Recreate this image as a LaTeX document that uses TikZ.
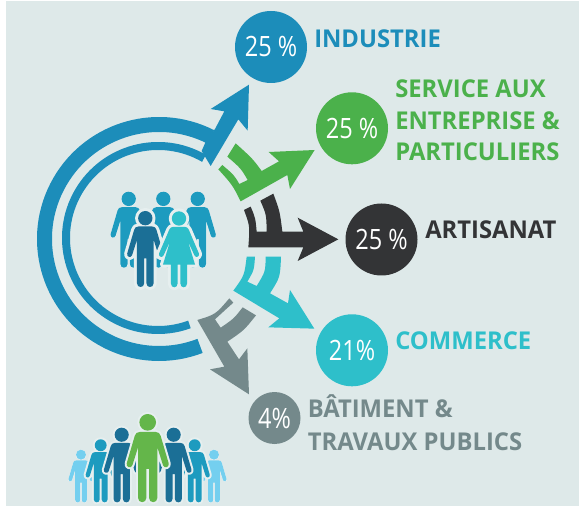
\documentclass[tikz,border=0pt]{standalone}
\usepackage{fontspec}
\setmainfont{Open Sans}
\newfontfamily\labfont[FakeStretch=0.97]{Open Sans}
\newfontfamily\pctfont[FakeStretch=0.84]{Open Sans}
\definecolor{bgc}{HTML}{DEE9E9}
\definecolor{haloc}{HTML}{E6EFEF}
\definecolor{cblue}{HTML}{1C8DBA}
\definecolor{cgreen}{HTML}{4BB14B}
\definecolor{cblack}{HTML}{333436}
\definecolor{ccyan}{HTML}{2EBFCA}
\definecolor{cgray}{HTML}{74898B}
\definecolor{pgreen}{HTML}{64B64A}
\definecolor{pdark}{HTML}{1B6F96}
\definecolor{pmid}{HTML}{1D9BBF}
\definecolor{plight}{HTML}{74CFEF}
\tikzset{
  pctnode/.style={circle,fill=#1,minimum size=54pt,inner sep=0pt,text=white,font=\pctfont\fontsize{21}{21}\selectfont},
  labnode/.style={anchor=base west,inner sep=0pt,text=#1,font=\labfont\bfseries\fontsize{18.4}{18.4}\selectfont},
}
\newcommand{\manbody}{
  (-24,54) -- (24,54) .. controls (32,54) and (37,58) .. (39,66)
  -- (63,148) .. controls (66,160) and (50,165) .. (46,154)
  -- (29,100) -- (29,252) .. controls (29,269) and (4,269) .. (4,252)
  -- (4,165) -- (-4,165) -- (-4,252) .. controls (-4,269) and (-29,269) .. (-29,252)
  -- (-29,100) -- (-46,154) .. controls (-50,165) and (-66,160) .. (-63,148)
  -- (-39,66) .. controls (-37,58) and (-32,54) .. (-24,54) -- cycle
}
\newcommand{\womanbody}{
  (-20,54) -- (20,54) .. controls (27,54) and (31,58) .. (34,64)
  -- (69,146) .. controls (73,158) and (59,164) .. (54,154)
  -- (31,104) -- (56,186) -- (28,186) -- (28,252) .. controls (28,269) and (5,269) .. (5,252)
  -- (5,186) -- (-5,186) -- (-5,252) .. controls (-5,269) and (-28,269) .. (-28,252)
  -- (-28,186) -- (-56,186) -- (-31,104) -- (-54,154) .. controls (-59,164) and (-73,158) .. (-69,146)
  -- (-34,64) .. controls (-31,58) and (-27,54) .. (-20,54) -- cycle
}
\newcommand{\man}[5]{
  \begin{scope}[shift={(#1,#2)},scale=#3]
    \draw[haloc,line width=#5,fill=haloc,line join=round] (0,25) circle (25) \manbody;
    \fill[#4] (0,25) circle (25) \manbody;
  \end{scope}
}
\newcommand{\woman}[5]{
  \begin{scope}[shift={(#1,#2)},scale=#3]
    \draw[haloc,line width=#5,fill=haloc,line join=round] (0,25) circle (25) \womanbody;
    \fill[#4] (0,25) circle (25) \womanbody;
  \end{scope}
}
\begin{document}
\begin{tikzpicture}[x=0.75pt,y=-0.75pt]
\useasboundingbox (0,0) rectangle (579,506);
\fill[bgc] (6,1) rectangle (579,506);

% rings
\draw[cblue,line width=11.25pt] (159,239) ++(-63:114.5) arc[start angle=-63,end angle=-291,radius=114.5];
\draw[cblue,line width=6pt] (158,238) ++(-60:92) arc[start angle=-60,end angle=-290,radius=92];

% blue arrow
\begin{scope}[shift={(180,70)},scale=1/3]
\fill[cblue] (105,177) -- (133,124) -- (92,117) -- (207,44) -- (203,182) -- (175,148) -- (92,288) -- (65,243) -- (78,213) -- cycle;
\end{scope}

% green arrow
\begin{scope}[shift={(210,130)},scale=1/3]
\fill[cgreen] (77,40) .. controls (128,86.2) .. (155,123) -- (207,94) -- (176,66) -- (314,60) -- (240,177) -- (232,135)
 -- (92,214) .. controls (67.2,164.7) .. (25,118) -- (37,105) .. controls (72.5,135.5) .. (88,162) -- (113,150) .. controls (92.5,115) .. (52,80) -- cycle;
\end{scope}

% black arrow
\begin{scope}[shift={(235,185)},scale=1/3]
\fill[cblack] (76,47) -- (115,26) .. controls (134.5,79) .. (142,140) -- (205,140) -- (188,98) -- (310,163) -- (188,228) -- (205,187)
 -- (40,187) .. controls (44.8,123) .. (27,75) -- (47,65) .. controls (61.3,99.2) .. (65,140) -- (95,140) .. controls (94.2,88.8) .. (76,47) -- cycle;
\end{scope}

% cyan arrow
\begin{scope}[shift={(225,250)},scale=1/3]
\fill[ccyan] (65,20) -- (90,20) .. controls (87.2,60.8) .. (67,95) -- (95,108) .. controls (121.2,65.3) .. (122,20) -- (168,20)
 .. controls (165.5,81.7) .. (135,130) -- (189,160) -- (195,120) -- (268,236) -- (130,232) -- (163,205) -- (25,122) .. controls (58.3,76.3) .. (65,20) -- cycle;
\end{scope}

% gray arrow
\begin{scope}[shift={(190,300)},scale=1/3]
\fill[cgray] (22,60) .. controls (76.7,43.3) .. (118,-5) -- (130,8) .. controls (99.2,35.7) .. (75,58) -- (92,83) .. controls (131.7,55.8) .. (158,22)
 -- (198,46) .. controls (161.7,91.5) .. (112,125) -- (147,178) -- (172,145) -- (177,283) -- (60,208) -- (103,200) -- cycle;
\end{scope}

% circles
\node[pctnode=cblue] (c1) at (271,47) {25 \%};
\node[pctnode=cgreen] (c2) at (352,128.3) {25 \%};
\node[pctnode=cblack] (c3) at (381.5,239.5) {25 \%};
\node[pctnode=ccyan] (c4) at (352,350.3) {21\%};
\node[pctnode=cgray,minimum size=39pt] (c5) at (274.5,418) {4\%};

% labels
\node[labnode=cblue] (l1) at (314,47.3) {INDUSTRIE};
\node[labnode=cgreen] (l2a) at (395,97.7) {SERVICE AUX};
\node[labnode=cgreen] (l2b) at (395,129.3) {ENTREPRISE \&};
\node[labnode=cgreen] (l2c) at (395,160.7) {PARTICULIERS};
\node[labnode=cblack] (l3) at (425,239) {ARTISANAT};
\node[labnode=ccyan] (l4) at (395,349.3) {COMMERCE};
\node[labnode=cgray] (l5a) at (307.5,417.7) {BÂTIMENT \&};
\node[labnode=cgray] (l5b) at (307.5,450) {TRAVAUX PUBLICS};

% central group
\man{128.7}{191.7}{0.287}{pmid}{0pt}
\man{163.3}{191.7}{0.287}{pmid}{0pt}
\man{197.7}{191.7}{0.287}{pmid}{0pt}
\man{145.3}{211}{0.287}{pdark}{4.5pt}
\woman{179}{211.3}{0.287}{ccyan}{4.5pt}

% bottom group
\man{81}{449.7}{0.199}{plight}{0pt}
\man{214}{449.7}{0.199}{plight}{0pt}
\man{100.7}{439.3}{0.238}{pmid}{3pt}
\man{194.7}{439.3}{0.238}{pmid}{3pt}
\man{121.7}{427.7}{0.282}{pdark}{3pt}
\man{173.7}{427.7}{0.282}{pdark}{3pt}
\man{147.7}{414}{0.333}{pgreen}{3pt}
\end{tikzpicture}
\end{document}
